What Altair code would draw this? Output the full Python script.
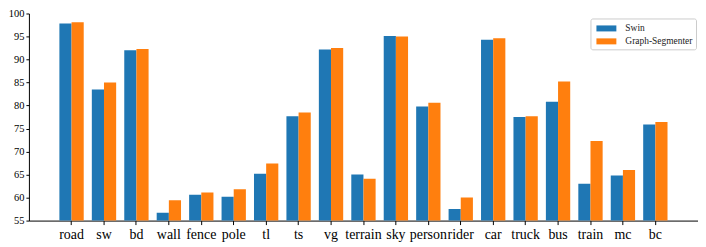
import altair as alt
import pandas as pd

categories = ["road", "sw", "bd", "wall", "fence", "pole", "tl", "ts", "vg", "terrain",
              "sky", "person", "rider", "car", "truck", "bus", "train", "mc", "bc"]
swin = [97.8, 83.5, 92.0, 56.7, 60.6, 60.2, 65.2, 77.7, 92.2, 65.0,
        95.1, 79.8, 57.5, 94.3, 77.5, 80.8, 63.0, 64.8, 75.9]
graph_seg = [98.1, 85.0, 92.3, 59.4, 61.1, 61.8, 67.4, 78.5, 92.5, 64.1,
             95.0, 80.6, 60.0, 94.6, 77.7, 85.2, 72.3, 66.0, 76.4]
series = ["Swin", "Graph-Segmenter"]
colors = ["#1f77b4", "#ff7f0e"]

rows = []
for c, a, b in zip(categories, swin, graph_seg):
    rows.append({"cat": c, "model": series[0], "val": a})
    rows.append({"cat": c, "model": series[1], "val": b})
df = pd.DataFrame(rows)

FONT = "Liberation Serif"

chart = alt.Chart(df).mark_bar(clip=True).encode(
    x=alt.X("cat:N", sort=categories, title=None,
            scale=alt.Scale(paddingInner=0.25, paddingOuter=0.94),
            axis=alt.Axis(labelAngle=0, labelFont=FONT, labelFontSize=14, labelColor="black",
                          domainColor="black", tickColor="black", tickSize=4,
                          labelPadding=3, grid=False)),
    xOffset=alt.XOffset("model:N", sort=series, scale=alt.Scale(paddingInner=0, paddingOuter=0)),
    y=alt.Y("val:Q", title=None,
            scale=alt.Scale(domain=[55, 100], nice=False, zero=False),
            axis=alt.Axis(values=[55, 60, 65, 70, 75, 80, 85, 90, 95, 100],
                          labelFont=FONT, labelFontSize=10.5, labelColor="black",
                          domainColor="black", tickColor="black", tickSize=3,
                          labelPadding=2, grid=False)),
    color=alt.Color("model:N", sort=series,
                    scale=alt.Scale(domain=series, range=colors),
                    legend=alt.Legend(title=None, orient="none", legendX=564, legendY=5,
                                      labelFont=FONT, labelFontSize=9.5, labelColor="#222",
                                      symbolType="M-1.43,-0.43H1.43V0.43H-1.43Z", symbolSize=196,
                                      symbolStrokeWidth=0, symbolOffset=6, rowPadding=1,
                                      strokeColor="#cccccc", cornerRadius=2, padding=3,
                                      fillColor="white", labelOffset=12)),
).properties(
    width=672, height=208,
    autosize=alt.AutoSizeParams(type="none"),
    padding={"left": 21, "top": 5, "right": 0, "bottom": 26},
).configure_view(stroke=None).configure_axis(domainWidth=1)

chart.save("out.html", embed_options={"renderer": "svg", "actions": False})
